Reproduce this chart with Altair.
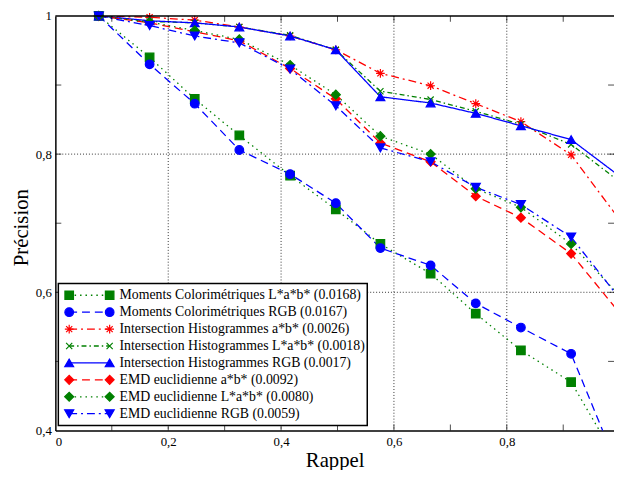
import altair as alt
import pandas as pd

# ---------------- data ----------------
recall = [0.077, 0.167, 0.247, 0.326, 0.416, 0.497, 0.576, 0.665, 0.745, 0.825, 0.914, 1.0]

series = [
    "Moments Colorimétriques L*a*b* (0.0168)",
    "Moments Colorimétriques RGB (0.0167)",
    "Intersection Histogrammes a*b* (0.0026)",
    "Intersection Histogrammes L*a*b* (0.0018)",
    "Intersection Histogrammes RGB (0.0017)",
    "EMD euclidienne a*b* (0.0092)",
    "EMD euclidienne L*a*b* (0.0080)",
    "EMD euclidienne RGB (0.0059)",
]

prec_moments_lab = [1.0, 0.940, 0.880, 0.827, 0.769, 0.720, 0.670, 0.627, 0.569, 0.516, 0.470, 0.350]
prec_moments_rgb = [1.0, 0.930, 0.873, 0.806, 0.771, 0.729, 0.664, 0.639, 0.584, 0.549, 0.511, 0.340]
prec_inter_ab = [1.0, 0.998, 0.994, 0.984, 0.971, 0.951, 0.917, 0.899, 0.873, 0.847, 0.799, 0.705]
prec_inter_lab = [1.0, 0.992, 0.990, 0.984, 0.972, 0.951, 0.891, 0.879, 0.862, 0.843, 0.814, 0.760]
prec_inter_rgb = [1.0, 0.993, 0.990, 0.984, 0.971, 0.951, 0.883, 0.874, 0.859, 0.841, 0.821, 0.768]
prec_emd_ab = [1.0, 0.990, 0.977, 0.964, 0.924, 0.880, 0.816, 0.789, 0.739, 0.708, 0.656, 0.570]
prec_emd_lab = [1.0, 0.991, 0.979, 0.966, 0.929, 0.886, 0.826, 0.800, 0.750, 0.723, 0.670, 0.595]
prec_emd_rgb = [1.0, 0.986, 0.971, 0.961, 0.923, 0.870, 0.809, 0.789, 0.752, 0.727, 0.680, 0.591]

all_prec = [prec_moments_lab, prec_moments_rgb, prec_inter_ab, prec_inter_lab,
            prec_inter_rgb, prec_emd_ab, prec_emd_lab, prec_emd_rgb]

x_label_values = [0, 0.2, 0.4, 0.6, 0.8]
y_label_values = [0.4, 0.6, 0.8, 1.0]
grid_x = [0.2, 0.4, 0.6, 0.8]
grid_y = [0.6, 0.8]
tick_x = [0.1, 0.2, 0.3, 0.4, 0.5, 0.6, 0.7, 0.8, 0.9]
tick_y = [0.5, 0.6, 0.7, 0.8, 0.9]

# ---------------- styles ----------------
GREEN, BLUE, RED = "#008000", "#0000ff", "#ff0000"
colors = [GREEN, BLUE, RED, GREEN, BLUE, RED, GREEN, BLUE]
fills = [GREEN, BLUE, "transparent", "transparent", BLUE, RED, GREEN, BLUE]
dashes = [[1.5, 4], [8, 5], [8, 4, 2, 4], [5, 3, 1.5, 3], [1, 0], [8, 5], [1.5, 4], [8, 4, 2, 4]]
AST = "M-1,0L1,0M0,-1L0,1M-0.7,-0.7L0.7,0.7M-0.7,0.7L0.7,-0.7"
XMK = "M-0.7,-0.7L0.7,0.7M-0.7,0.7L0.7,-0.7"
shapes = ["square", "circle", AST, XMK, "triangle-up", "diamond", "diamond", "triangle-down"]
sizes = [75, 85, 130, 45, 115, 95, 95, 115]

rows = []
for si, (name, vals) in enumerate(zip(series, all_prec)):
    for i, (r, p) in enumerate(zip(recall, vals)):
        rows.append({"series": name, "idx": i, "recall": r, "precision": p})
df = pd.DataFrame(rows)
df_pts = df[df["precision"] >= 0.4]

W, H = 566, 420
TL = 6  # inward tick length
FONT = "'Liberation Serif', 'Times New Roman', 'DejaVu Serif', serif"

stroke_scale = alt.Scale(domain=series, range=colors)
fill_scale = alt.Scale(domain=series, range=fills)
dash_scale = alt.Scale(domain=series, range=dashes)
shape_scale = alt.Scale(domain=series, range=shapes)
size_scale = alt.Scale(domain=series, range=sizes)

xscale = alt.Scale(domain=[0, 0.99], nice=False, zero=False)
yscale = alt.Scale(domain=[0.4, 1.0], nice=False, zero=False)

label_expr = "replace(toString(datum.value), '.', ',')"
xaxis = alt.Axis(values=x_label_values, labelExpr=label_expr, ticks=False, tickSize=0,
                 grid=False, domainColor="black", domainWidth=1.5, labelPadding=5,
                 labelFontSize=13, labelColor="black", labelFont=FONT,
                 title="Rappel", titleFontSize=21, titleFontWeight="normal",
                 titleColor="black", titleFont=FONT, titleY=37, titleBaseline="alphabetic")
yaxis = alt.Axis(values=y_label_values, labelExpr=label_expr, ticks=False, tickSize=0,
                 grid=False, domainColor="black", domainWidth=1.5, labelPadding=4,
                 labelFontSize=13, labelColor="black", labelFont=FONT,
                 title="Précision", titleFontSize=21, titleFontWeight="normal",
                 titleColor="black", titleFont=FONT, titleX=-28, titleY=214,
                 titleBaseline="alphabetic")

one = pd.DataFrame({"a": [0]})

gx = alt.Chart(pd.DataFrame({"recall": grid_x})).mark_rule(
    strokeDash=[1, 2], color="#333333", strokeWidth=1
).encode(x=alt.X("recall:Q", scale=xscale, axis=xaxis))
gy = alt.Chart(pd.DataFrame({"precision": grid_y})).mark_rule(
    strokeDash=[1, 2], color="#333333", strokeWidth=1
).encode(y=alt.Y("precision:Q", scale=yscale, axis=yaxis))

tdx = pd.DataFrame({"recall": tick_x})
tdy = pd.DataFrame({"precision": tick_y})
tick_style = dict(color="black", thickness=1, size=TL)
tb = alt.Chart(tdx).mark_tick(orient="vertical", **tick_style).encode(
    x=alt.X("recall:Q", scale=xscale, axis=xaxis), y=alt.value(H - TL / 2))
tt = alt.Chart(tdx).mark_tick(orient="vertical", **tick_style).encode(
    x=alt.X("recall:Q", scale=xscale, axis=xaxis), y=alt.value(TL / 2))
tl = alt.Chart(tdy).mark_tick(orient="horizontal", **tick_style).encode(
    y=alt.Y("precision:Q", scale=yscale, axis=yaxis), x=alt.value(TL / 2))
tr = alt.Chart(tdy).mark_tick(orient="horizontal", **tick_style).encode(
    y=alt.Y("precision:Q", scale=yscale, axis=yaxis), x=alt.value(W - TL / 2))
top_line = alt.Chart(one).mark_rule(color="black", strokeWidth=1.5).encode(
    y=alt.value(0), x=alt.value(0), x2=alt.value(W))

lines = alt.Chart(df).mark_line(clip=True, strokeWidth=1.3).encode(
    x=alt.X("recall:Q", scale=xscale, axis=xaxis),
    y=alt.Y("precision:Q", scale=yscale, axis=yaxis),
    stroke=alt.Stroke("series:N", scale=stroke_scale, legend=None),
    strokeDash=alt.StrokeDash("series:N", scale=dash_scale, legend=None),
    order="idx:Q",
)
points = alt.Chart(df_pts).mark_point(opacity=1, strokeWidth=1.2).encode(
    x=alt.X("recall:Q", scale=xscale, axis=xaxis),
    y=alt.Y("precision:Q", scale=yscale, axis=yaxis),
    stroke=alt.Stroke("series:N", scale=stroke_scale, legend=None),
    fill=alt.Fill("series:N", scale=fill_scale, legend=None),
    shape=alt.Shape("series:N", scale=shape_scale, legend=None),
    size=alt.Size("series:N", scale=size_scale, legend=None),
)

main = alt.layer(gx, gy, lines, points, tb, tt, tl, tr, top_line)

# ---------------- legend ----------------
leg_df = pd.DataFrame({"series": series, "row": list(range(len(series)))})
ly = alt.Y("row:Q", scale=alt.Scale(domain=[0, 7], range=[283, 403]), axis=None)

box = alt.Chart(one).mark_rect(fill="white", stroke="black", strokeWidth=1.5).encode(
    x=alt.value(3), x2=alt.value(316), y=alt.value(271), y2=alt.value(415))
leg_lines = alt.Chart(leg_df).mark_rule(strokeWidth=1.3).encode(
    x=alt.value(14), x2=alt.value(55), y=ly,
    stroke=alt.Stroke("series:N", scale=stroke_scale, legend=None),
    strokeDash=alt.StrokeDash("series:N", scale=dash_scale, legend=None),
)
def leg_pts(xpos):
    return alt.Chart(leg_df).mark_point(opacity=1, strokeWidth=1.2).encode(
        x=alt.value(xpos), y=ly,
        stroke=alt.Stroke("series:N", scale=stroke_scale, legend=None),
        fill=alt.Fill("series:N", scale=fill_scale, legend=None),
        shape=alt.Shape("series:N", scale=shape_scale, legend=None),
        size=alt.Size("series:N", scale=size_scale, legend=None),
    )
leg_text = alt.Chart(leg_df).mark_text(
    align="left", baseline="middle", font=FONT, fontSize=14, color="black"
).encode(x=alt.value(65), y=ly, text="series:N")

legend = alt.layer(box, leg_lines, leg_pts(14), leg_pts(55), leg_text)

chart = alt.layer(main, legend).resolve_scale(y="independent").properties(
    width=W, height=H,
    padding={"left": 48, "top": 5, "right": 0, "bottom": 37},
    autosize=alt.AutoSizeParams(type="none"),
).configure(font=FONT).configure_view(stroke=None).configure_axis(grid=False)

chart.save("out.html", embed_options={"renderer": "svg", "actions": False})
